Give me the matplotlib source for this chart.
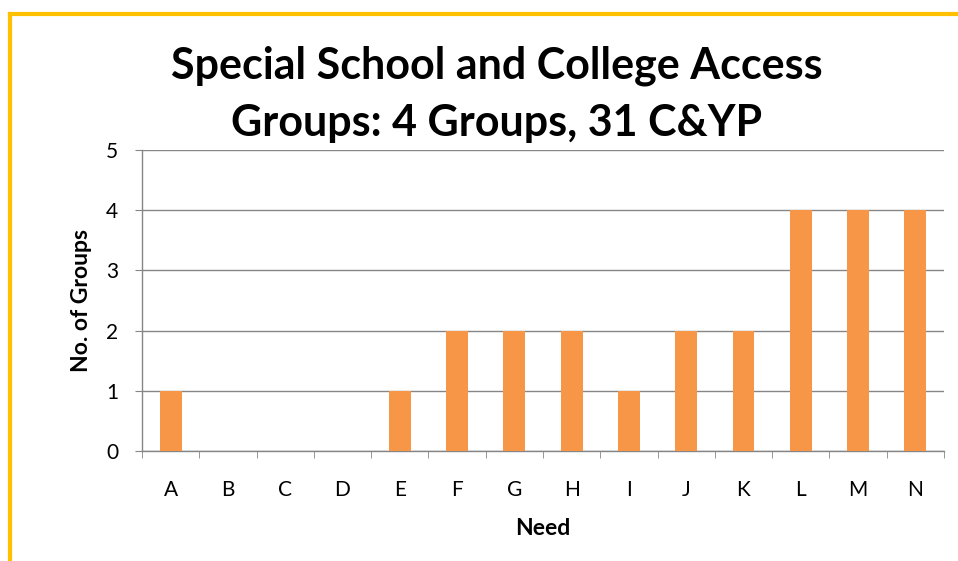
import matplotlib.pyplot as plt
from matplotlib.lines import Line2D

# Dữ liệu
needs = ['A', 'B', 'C', 'D', 'E', 'F', 'G', 'H', 'I', 'J', 'K', 'L', 'M', 'N']
groups = [1, 0, 0, 0, 1, 2, 2, 2, 1, 2, 2, 4, 4, 4]
title_lines = ['Special School and College Access', 'Groups: 4 Groups, 31 C&YP']

plt.rcParams['font.family'] = ['Lato', 'DejaVu Sans']

fig = plt.figure(figsize=(9.58, 5.61), dpi=100)
ax = fig.add_axes([142/958, 1 - 451/561, 802/958, 301/561])

x = list(range(len(needs)))
ax.bar(x, groups, width=0.38, color='#F79646', zorder=3)

ax.set_xlim(-0.5, len(needs) - 0.5)
ax.set_ylim(0, 5)
ax.set_yticks(range(6))
ax.set_xticks(x)
ax.set_xticklabels(needs)
ax.set_xticks([i - 0.5 for i in range(len(needs) + 1)], minor=True)

grey = '#868686'
ax.grid(axis='y', color=grey, linewidth=1, zorder=0)
for s in ['top', 'right']:
    ax.spines[s].set_visible(False)
for s in ['left', 'bottom']:
    ax.spines[s].set_color(grey)
    ax.spines[s].set_linewidth(1)

ax.tick_params(axis='x', which='major', length=0, pad=21, labelsize=15)
ax.tick_params(axis='x', which='minor', length=5, color=grey)
ax.tick_params(axis='y', length=5, color=grey, pad=12, labelsize=15)

ax.set_xlabel('Need', fontsize=16.5, fontweight='bold', va='baseline')
ax.xaxis.set_label_coords(0.5, (451 - 535) / 301)
ax.set_ylabel('No. of Groups', fontsize=16.5, fontweight='bold', va='center')
ax.yaxis.set_label_coords((81 - 142) / 802, 0.5)

# Tiêu đề
fig.text(497/958, 1 - 78/561, title_lines[0], ha='center', va='baseline',
         fontsize=31, fontweight='bold')
fig.text(497/958, 1 - 136/561, title_lines[1], ha='center', va='baseline',
         fontsize=31, fontweight='bold')

# Viền vàng
gold = '#FFC000'
fig.add_artist(Line2D([10/958, 1], [1 - 13.5/561, 1 - 13.5/561], color=gold, linewidth=3))
fig.add_artist(Line2D([10/958, 10/958], [0, 1 - 13.5/561], color=gold, linewidth=3))

plt.savefig('out.png', dpi=100)
